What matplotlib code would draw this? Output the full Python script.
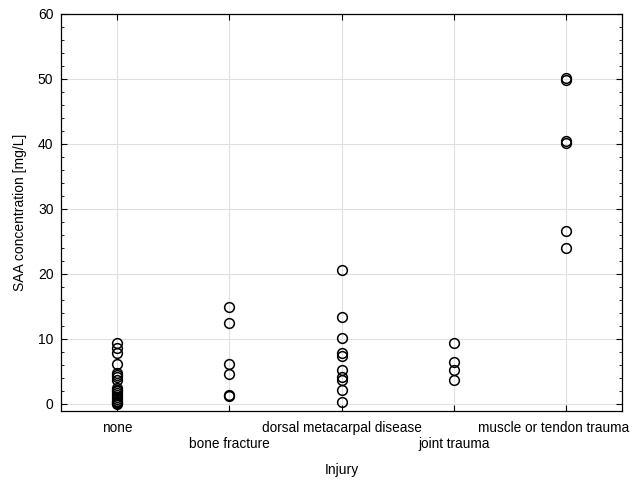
import numpy as np
import matplotlib
matplotlib.use("Agg")
import matplotlib.pyplot as plt
from matplotlib.ticker import MultipleLocator

plt.rcParams['font.family'] = ['Liberation Sans', 'DejaVu Sans']

# injury groups and SAA values
categories = ['none', 'bone fracture', 'dorsal metacarpal disease',
              'joint trauma', 'muscle or tendon trauma']
none_vals = [9.4, 8.6, 7.8, 6.1, 4.8, 4.4, 4.1, 3.7, 2.5, 2.2, 2.0, 1.7,
             1.4, 1.1, 0.8, 0.5, 0.3, 0.1, 0.0]
bone_vals = [14.9, 12.5, 6.1, 4.6, 1.4, 1.2]
dorsal_vals = [20.6, 13.3, 10.1, 7.9, 7.3, 5.2, 4.1, 3.7, 2.2, 0.3]
joint_vals = [9.3, 6.5, 5.2, 3.7]
muscle_vals = [50.2, 49.8, 40.5, 40.1, 26.6, 24.0]

groups = [none_vals, bone_vals, dorsal_vals, joint_vals, muscle_vals]

fig = plt.figure(figsize=(6.36, 4.8), dpi=100)
ax = fig.add_axes([0.096, 0.144, 0.882, 0.827])

for i, vals in enumerate(groups):
    ax.plot(np.full(len(vals), i), vals, linestyle='none', marker='o',
            markersize=7, markerfacecolor='none', markeredgecolor='black',
            markeredgewidth=1.1, zorder=3)

ax.set_xlim(-0.5, 4.5)
ax.set_ylim(-1.08, 60)
ax.set_yticks(range(0, 61, 10))
ax.yaxis.set_minor_locator(MultipleLocator(2))
ax.set_xticks(range(len(categories)))
# stagger labels like the original; the last one is drawn separately,
# nudged left so it fits inside the figure
labels = [c if i % 2 == 0 else '\n' + c for i, c in enumerate(categories)]
labels[-1] = ''
ax.set_xticklabels(labels, fontsize=9.8)
ax.annotate(categories[-1], xy=(len(categories) - 1, 0),
            xycoords=('data', 'axes fraction'), xytext=(-8.5, -7),
            textcoords='offset points', ha='center', va='top',
            fontsize=9.8, annotation_clip=False)
ax.tick_params(axis='y', labelsize=10, pad=5.5)
ax.tick_params(axis='x', pad=7)

ax.grid(True, color='#e0e0e0', linewidth=0.8, zorder=0)
ax.set_axisbelow(True)

ax.tick_params(which='both', direction='in', right=True, top=True)
ax.tick_params(which='major', length=4)
ax.tick_params(which='minor', length=2.5)
for s in ax.spines.values():
    s.set_color('black')
    s.set_linewidth(0.9)

ax.set_ylabel('SAA concentration [mg/L]', fontsize=10, labelpad=8)
ax.set_xlabel('Injury', fontsize=10, labelpad=9)

fig.savefig('out.png', dpi=100)
